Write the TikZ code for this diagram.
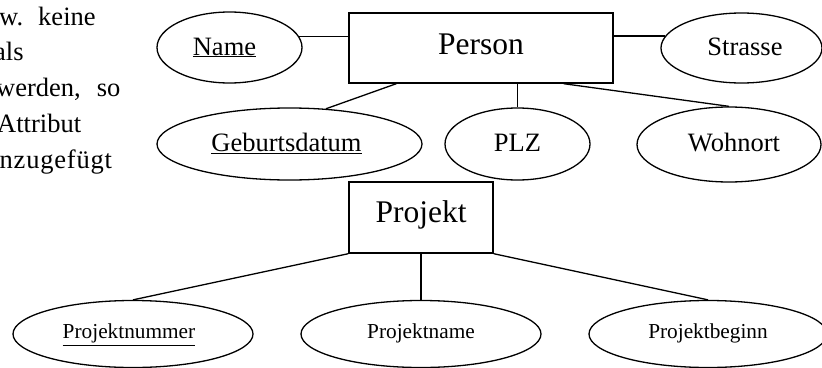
\documentclass[tikz,border=0pt]{standalone}
\usepackage{fontspec}
\setmainfont{Liberation Serif}
\usetikzlibrary{shapes.geometric}
\begin{document}
\begin{tikzpicture}[x=1pt,y=-1pt,
  attr/.style={ellipse, draw, line width=1.3pt, inner sep=0pt, font=\fontsize{26.5}{30}\selectfont, text height=20pt},
  sattr/.style={ellipse, draw, line width=1.3pt, inner sep=0pt, font=\fontsize{21.3}{25}\selectfont, text height=20pt},
  entity/.style={rectangle, draw, line width=1.4pt, inner sep=0pt, font=\fontsize{31.5}{36}\selectfont, text height=20pt},
  conn/.style={line width=1.3pt},
  txt/.style={anchor=base west, inner sep=0pt, font=\fontsize{26.5}{30}\selectfont}
]
\useasboundingbox (0,0) rectangle (822,367);

% entities
\node[entity, minimum width=264pt, minimum height=70pt, text depth=8pt] (person) at (481,48) {Person};
\node[entity, minimum width=144pt, minimum height=71pt, text depth=11pt] (projekt) at (421,217.5) {Projekt};

% attributes of Person
\node[attr, minimum width=145pt, minimum height=71pt, text depth=5pt] (name) at (229.5,47.5) {\hspace*{-10pt}\underline{Name}};
\node[attr, minimum width=161pt, minimum height=70pt, text depth=6pt] (strasse) at (741.5,48) {\hspace*{7pt}Strasse};
\node[attr, minimum width=265pt, minimum height=72pt, text depth=4.6pt] (geb) at (289.5,144) {\hspace*{-6pt}\underline{Geburtsdatum}};
\node[attr, minimum width=145pt, minimum height=72pt, text depth=4.6pt] (plz) at (517.5,144) {PLZ};
\node[attr, minimum width=184pt, minimum height=75pt, text depth=5.6pt] (wohnort) at (729,144.5) {\hspace*{10pt}Wohnort};

% attributes of Projekt
\node[sattr, minimum width=240pt, minimum height=67pt, text depth=10.4pt] (pnum) at (133,334) {\hspace*{-8pt}\underline{Projektnummer}};
\node[sattr, minimum width=240pt, minimum height=67pt, text depth=11pt] (pname) at (421,334) {Projektname};
\node[sattr, minimum width=238pt, minimum height=67pt, text depth=11pt] (pbeg) at (708,334) {Projektbeginn};

% connectors
\draw[conn] (name.9) -- (name.9 -| person.west);
\draw[conn] (strasse.171) -- (strasse.171 -| person.east);
\draw[conn] ([xshift=48pt]person.south west) -- (geb.44);
\draw[conn] (person.south -| plz.north) -- (plz.north);
\draw[conn] ([xshift=-50pt]person.south east) -- (wohnort.north);
\draw[conn] (projekt.south west) -- (pnum.north);
\draw[conn] (projekt.south) -- (pname.north);
\draw[conn] (projekt.south east) -- (pbeg.north);

% cut-off text on the left
\node[txt] (t1) at (-1,25) {w.\hspace{15pt}keine};
\node[txt] (t2) at (-6,60.8) {als};
\node[txt] (t3) at (-4,96.6) {werden,\hspace{16pt}so};
\node[txt] (t4) at (-3,132.4) {Attribut};
\node[txt] (t5) at (-0.5,168.2) {\addfontfeature{LetterSpace=3}nzugefügt};
\end{tikzpicture}
\end{document}
